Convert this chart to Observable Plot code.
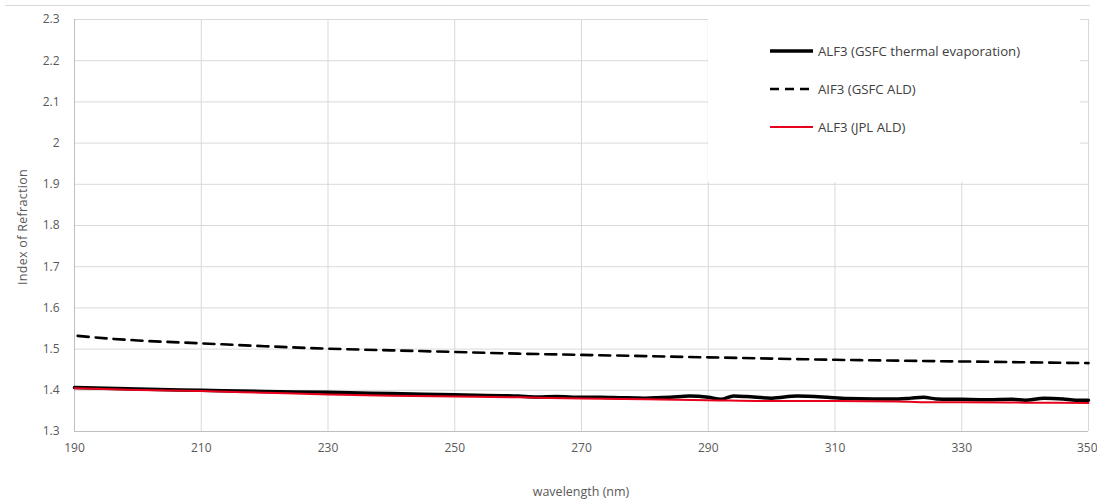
<!DOCTYPE html>
<html>
<head>
<meta charset="utf-8">
<script src="https://cdn.jsdelivr.net/npm/d3@7"></script>
<script src="https://cdn.jsdelivr.net/npm/@observablehq/plot@0.6"></script>
<style>
  body { margin: 0; background: #fff; font-family: "Open Sans", sans-serif; }
  #wrap { position: relative; width: 1097px; height: 500px; overflow: hidden; }
  #topline { position: absolute; left: 5px; top: 5px; width: 1085px; height: 0; border-top: 1px solid #d9d9d9; }
  #ytitle { position: absolute; left: 22px; top: 227px; transform: translate(-50%, -50%) rotate(-90deg); font-size: 12.5px; color: #595959; white-space: nowrap; letter-spacing: 0.3px; }
  #xtitle { position: absolute; left: 581px; top: 491px; transform: translate(-50%, -50%); font-size: 12.5px; color: #595959; white-space: nowrap; }
  #legend { position: absolute; left: 708px; top: 19px; width: 372px; height: 163px; background: #fff; }
  .item { position: absolute; left: 62px; display: flex; align-items: center; font-size: 13.2px; color: #404040; white-space: nowrap; }
  .item svg { margin-right: 5px; }
</style>
</head>
<body>
<div id="wrap">
  <div id="chart"></div>
  <div id="topline"></div>
  <div id="ytitle"></div>
  <div id="xtitle"></div>
  <div id="legend"></div>
</div>
<script>
// ---- data ----
const xTicks = [190, 210, 230, 250, 270, 290, 310, 330, 350];
const yTicks = [1.3, 1.4, 1.5, 1.6, 1.7, 1.8, 1.9, 2.0, 2.1, 2.2, 2.3];
const xLabel = "wavelength (nm)";
const yLabel = "Index of Refraction";
const seriesNames = ["ALF3 (GSFC thermal evaporation)", "AIF3 (GSFC ALD)", "ALF3 (JPL ALD)"];

const thermalWl = [190, 200, 210, 220, 230, 240, 250, 260, 263, 266, 270, 273, 276, 280, 284, 287, 290, 292, 294, 296, 300, 304, 308, 312, 316, 320, 322, 324, 326, 330, 334, 338, 340, 343, 346, 348, 350];
const thermalN  = [1.407, 1.403, 1.400, 1.397, 1.395, 1.392, 1.389, 1.386, 1.384, 1.385, 1.383, 1.383, 1.382, 1.381, 1.383, 1.386, 1.383, 1.378, 1.386, 1.385, 1.381, 1.386, 1.384, 1.380, 1.379, 1.379, 1.381, 1.383, 1.379, 1.378, 1.377, 1.378, 1.376, 1.381, 1.379, 1.376, 1.376];

const gsfcAldWl = [190.5, 195, 200, 210, 220, 230, 240, 250, 260, 270, 280, 290, 300, 310, 320, 330, 340, 350];
const gsfcAldN  = [1.532, 1.526, 1.521, 1.514, 1.507, 1.501, 1.497, 1.493, 1.489, 1.486, 1.483, 1.480, 1.477, 1.474, 1.472, 1.470, 1.468, 1.466];

const jplWl = [190, 200, 210, 220, 230, 240, 250, 260, 270, 280, 290, 300, 310, 320, 324, 330, 340, 350];
const jplN  = [1.405, 1.401, 1.398, 1.394, 1.390, 1.387, 1.385, 1.383, 1.380, 1.378, 1.376, 1.374, 1.374, 1.373, 1.371, 1.371, 1.370, 1.369];

const styles = [
  {stroke: "#000000", width: 3.5, dash: null},
  {stroke: "#000000", width: 2.6, dash: "11,7"},
  {stroke: "#e8001c", width: 2, dash: null}
];

const toRows = (wl, n) => wl.map((w, i) => ({w, n: n[i]}));
const thermal = toRows(thermalWl, thermalN);
const gsfcAld = toRows(gsfcAldWl, gsfcAldN);
const jpl = toRows(jplWl, jplN);

const fmtY = d => String(+d.toFixed(1));

const chart = Plot.plot({
  width: 1097,
  height: 500,
  marginLeft: 74,
  marginRight: 9,
  marginTop: 19,
  marginBottom: 69,
  style: {fontFamily: "'Open Sans', sans-serif", fontSize: "12px", color: "#595959", background: "#fff"},
  x: {domain: [190, 350], label: null},
  y: {domain: [1.3, 2.3], label: null},
  marks: [
    Plot.gridX(xTicks, {stroke: "#d9d9d9", strokeOpacity: 1}),
    Plot.gridY(yTicks, {stroke: "#d9d9d9", strokeOpacity: 1}),
    Plot.ruleX([190], {stroke: "#bfbfbf"}),
    Plot.ruleY([1.3], {stroke: "#bfbfbf"}),
    Plot.axisX(xTicks.slice(0, -1), {tickSize: 0, tickPadding: 12, fill: "#595959", label: null}),
    Plot.axisX(xTicks.slice(-1), {tickSize: 0, tickPadding: 12, fill: "#595959", label: null, textAnchor: "end", dx: 9}),
    Plot.axisY(yTicks, {tickSize: 0, tickPadding: 15, fill: "#595959", tickFormat: fmtY, label: null}),
    Plot.line(thermal, {x: "w", y: "n", stroke: styles[0].stroke, strokeWidth: styles[0].width, curve: "monotone-x"}),
    Plot.line(jpl, {x: "w", y: "n", stroke: styles[2].stroke, strokeWidth: styles[2].width, curve: "monotone-x"}),
    Plot.line(gsfcAld, {x: "w", y: "n", stroke: styles[1].stroke, strokeWidth: styles[1].width, strokeDasharray: styles[1].dash, curve: "monotone-x"})
  ]
});
document.getElementById("chart").appendChild(chart);

document.getElementById("ytitle").textContent = yLabel;
document.getElementById("xtitle").textContent = xLabel;

const legend = document.getElementById("legend");
const tops = [23, 61, 99];
seriesNames.forEach((name, i) => {
  const s = styles[i];
  const item = document.createElement("div");
  item.className = "item";
  item.style.top = tops[i] + "px";
  item.innerHTML = `<svg width="43" height="6"><line x1="0" x2="43" y1="3" y2="3" stroke="${s.stroke}" stroke-width="${s.width}" ${s.dash ? `stroke-dasharray="9,6"` : ""}/></svg><span>${name}</span>`;
  legend.appendChild(item);
});
</script>
</body>
</html>
